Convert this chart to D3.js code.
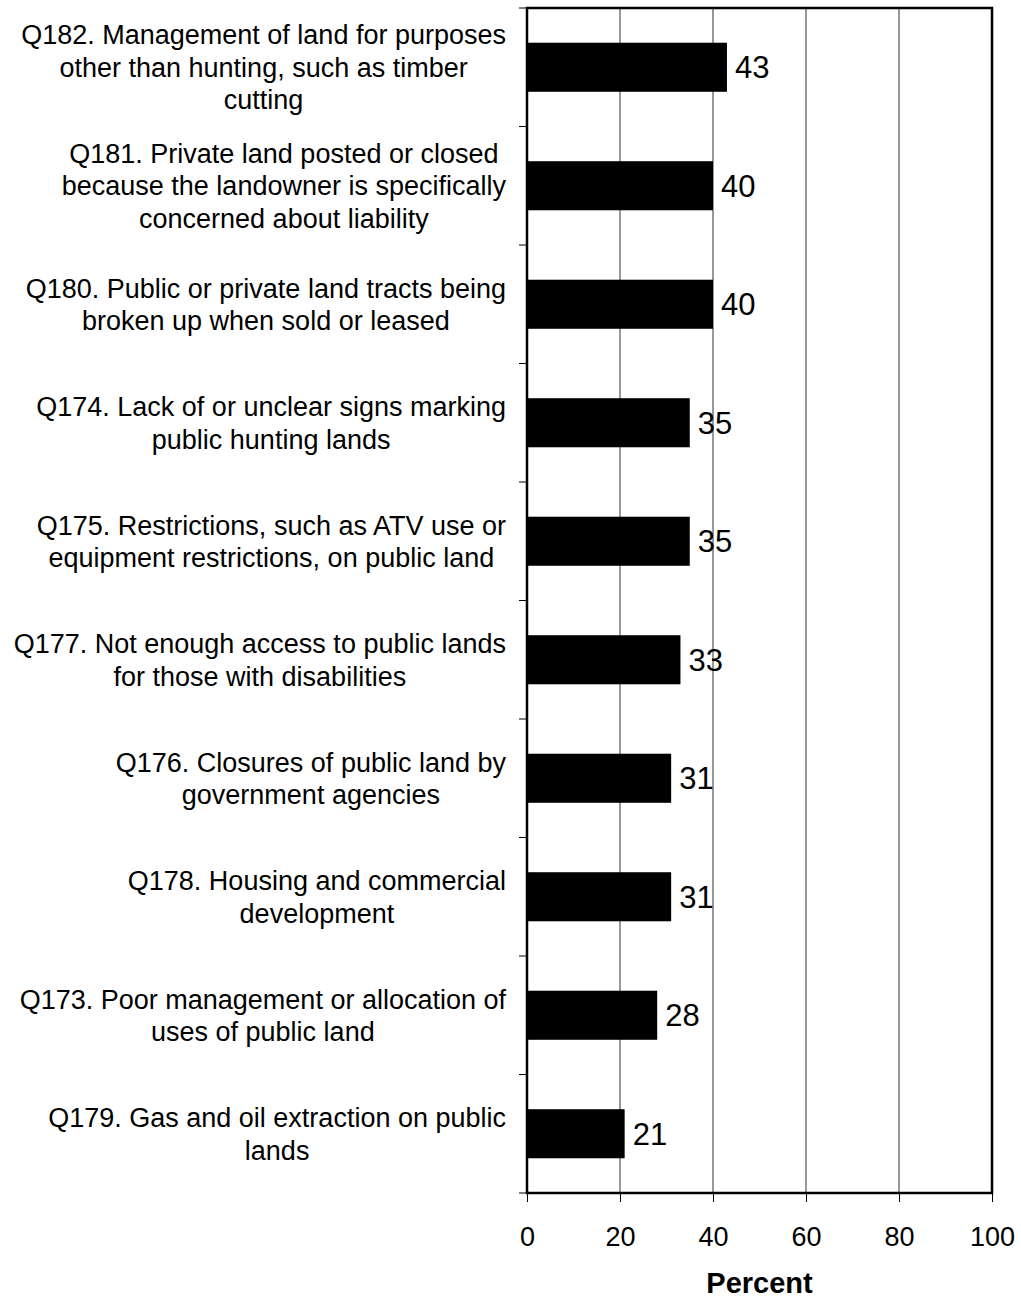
<!DOCTYPE html>
<html>
<head>
<meta charset="utf-8">
<script src="https://cdn.jsdelivr.net/npm/d3@7"></script>
<style>
  body { margin: 0; background: #fff; }
  text { font-family: Arial, "Liberation Sans", sans-serif; fill: #000; }
</style>
</head>
<body>
<svg id="chart"></svg>
<script>
// Survey items, top to bottom, with wrapped label lines
const items = ["Q182", "Q181", "Q180", "Q174", "Q175", "Q177", "Q176", "Q178", "Q173", "Q179"];
const labelLines = [
  ["Q182. Management of land for purposes", "other than hunting, such as timber", "cutting"],
  ["Q181. Private land posted or closed", "because the landowner is specifically", "concerned about liability"],
  ["Q180. Public or private land tracts being", "broken up when sold or leased"],
  ["Q174. Lack of or unclear signs marking", "public hunting lands"],
  ["Q175. Restrictions, such as ATV use or", "equipment restrictions, on public land"],
  ["Q177. Not enough access to public lands", "for those with disabilities"],
  ["Q176. Closures of public land by", "government agencies"],
  ["Q178. Housing and commercial", "development"],
  ["Q173. Poor management or allocation of", "uses of public land"],
  ["Q179. Gas and oil extraction on public", "lands"]
];
const percents = [43, 40, 40, 35, 35, 33, 31, 31, 28, 21];
const xTicks = [0, 20, 40, 60, 80, 100];

const width = 1021, height = 1300;
const margin = {top: 8, right: 29, bottom: 107, left: 527};
const fontSize = "27px";

const svg = d3.select("#chart")
  .attr("width", width)
  .attr("height", height);

const x = d3.scaleLinear()
  .domain([0, 100])
  .range([margin.left, width - margin.right]);

const y = d3.scaleBand()
  .domain(items)
  .range([margin.top, height - margin.bottom])
  .paddingInner(0.586)
  .paddingOuter(0.293);

// vertical gridlines
svg.append("g")
  .selectAll("line")
  .data(xTicks.slice(1, -1))
  .join("line")
    .attr("x1", d => x(d)).attr("x2", d => x(d))
    .attr("y1", margin.top).attr("y2", height - margin.bottom)
    .style("stroke", "#333")
    .style("stroke-width", 1);

// bars
svg.append("g")
  .selectAll("rect")
  .data(items)
  .join("rect")
    .attr("x", x(0))
    .attr("y", d => y(d))
    .attr("width", (d, i) => x(percents[i]) - x(0))
    .attr("height", y.bandwidth())
    .style("fill", "#000");

// value labels
svg.append("g")
  .selectAll("text")
  .data(items)
  .join("text")
    .attr("x", (d, i) => x(percents[i]) + 8)
    .attr("y", d => y(d) + y.bandwidth() / 2)
    .attr("dy", "0.35em")
    .style("font-size", "31px")
    .text((d, i) => percents[i]);

// plot frame
svg.append("rect")
  .attr("x", margin.left)
  .attr("y", margin.top)
  .attr("width", x(100) - x(0))
  .attr("height", height - margin.bottom - margin.top)
  .style("fill", "none")
  .style("stroke", "#000")
  .style("stroke-width", 2.5);

// x axis
const xAxis = svg.append("g")
  .attr("transform", `translate(0,${height - margin.bottom})`)
  .call(d3.axisBottom(x).tickValues(xTicks).tickSize(9).tickPadding(25));
xAxis.select(".domain").remove();
xAxis.selectAll("line").style("stroke", "#000");
xAxis.selectAll("text")
  .style("font-size", fontSize)
  .style("font-family", "Arial, 'Liberation Sans', sans-serif");

// y axis tick marks between categories
const step = y.step();
const yTickPos = d3.range(items.length + 1).map(i => margin.top + i * step);
svg.append("g")
  .selectAll("line")
  .data(yTickPos)
  .join("line")
    .attr("x1", margin.left - 8).attr("x2", margin.left)
    .attr("y1", d => d).attr("y2", d => d)
    .style("stroke", "#000");

// category labels, centered block ending at the axis
const lineH = 32.5;
const labelRight = 506;
const labels = svg.append("g")
  .selectAll("text")
  .data(items)
  .join("text")
    .attr("text-anchor", "middle")
    .style("font-size", fontSize);

labels.each(function(d, i) {
  const t = d3.select(this);
  const lines = labelLines[i];
  const cy = y(d) + y.bandwidth() / 2;
  lines.forEach((ln, k) => {
    t.append("tspan")
      .attr("y", cy + (k - (lines.length - 1) / 2) * lineH)
      .attr("dy", "0.36em")
      .text(ln);
  });
  let maxW = 0;
  t.selectAll("tspan").each(function() {
    maxW = Math.max(maxW, this.getComputedTextLength());
  });
  t.selectAll("tspan").attr("x", labelRight - maxW / 2);
});

// axis title
svg.append("text")
  .attr("x", (x(0) + x(100)) / 2)
  .attr("y", 1293)
  .attr("text-anchor", "middle")
  .style("font-size", "29px")
  .style("font-weight", "bold")
  .text("Percent");
</script>
</body>
</html>
